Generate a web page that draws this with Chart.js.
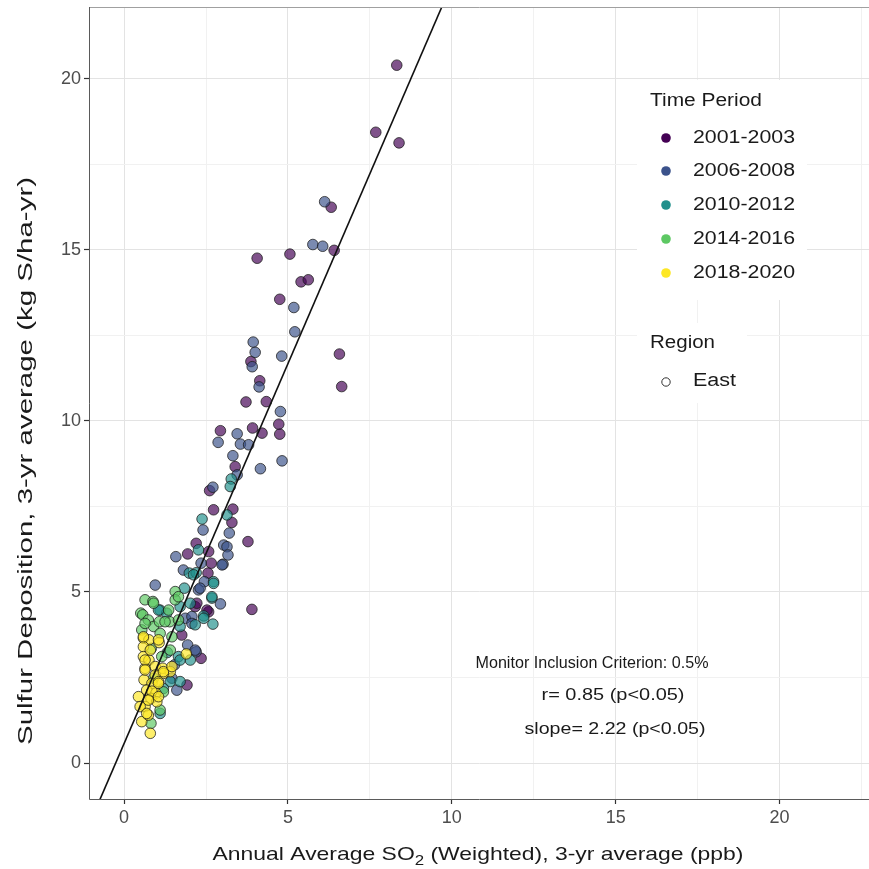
<!DOCTYPE html>
<html>
<head>
<meta charset="utf-8">
<script src="https://cdn.jsdelivr.net/npm/chart.js@4.4.1/dist/chart.umd.min.js"></script>
<style>
  html, body { margin: 0; padding: 0; background: #fff; overflow: hidden; }
  #wrap { width: 869px; height: 869px; position: relative; overflow: hidden; }
  #chart { display: block; }
</style>
</head>
<body>
<!-- canvas is a bit wider than the window so the panel runs off the right edge, as in the source -->
<div id="wrap"><canvas id="chart" width="876" height="869"></canvas></div>
<script>
// Data: [SO2 ppb, S deposition kg/ha-yr]
const periods = ['2001-2003', '2006-2008', '2010-2012', '2014-2016', '2018-2020'];
const periodColors = ['#440154', '#3B528B', '#21908C', '#5DC863', '#FDE725'];

const pts2001 = [
  [8.32,20.39],[7.68,18.43],[8.39,18.12],[6.32,16.24],[6.41,14.98],[4.06,14.75],[5.06,14.87],
  [5.40,14.06],[5.62,14.12],[4.75,13.55],[3.87,11.73],[6.57,11.95],[6.64,11.0],[4.14,11.17],
  [3.72,10.55],[4.34,10.56],[2.94,9.71],[3.92,9.79],[4.21,9.64],[4.72,9.90],[4.75,9.61],
  [3.39,8.66],[2.61,7.96],[2.73,7.40],[3.32,7.42],[3.29,7.03],[3.78,6.47],[2.20,6.42],
  [2.58,6.18],[1.94,6.11],[2.66,5.84],[2.56,5.55],[2.17,4.57],[3.90,4.49],[2.58,4.42],
  [1.76,3.74],[2.35,3.06],[1.92,2.28],[2.22,4.67],[2.53,4.47]
];
const pts2006 = [
  [6.12,16.40],[5.76,15.15],[6.06,15.10],[5.18,13.31],[5.21,12.60],[3.94,12.30],[4.0,12.0],
  [3.91,11.58],[4.81,11.89],[4.12,10.99],[4.77,10.27],[3.45,9.62],[2.87,9.37],[3.55,9.32],
  [3.80,9.30],[4.82,8.83],[4.16,8.60],[3.32,8.98],[3.45,8.42],[2.71,8.06],[2.41,6.81],
  [3.21,6.72],[3.04,6.37],[3.14,6.32],[3.17,6.08],[1.58,6.03],[2.35,5.84],[3.02,5.81],
  [1.81,5.64],[2.45,5.30],[0.95,5.20],[2.27,5.06],[2.94,4.65],[1.87,4.23],[2.07,4.28],
  [1.94,3.45],[2.20,3.25],[1.54,2.87],[1.61,2.13],[1.46,2.48],[2.99,5.79],[2.32,5.11],
  [2.07,4.08],[2.17,3.30]
];
const pts2010 = [
  [3.27,8.30],[3.24,8.08],[3.14,7.25],[2.38,7.13],[2.27,6.23],[1.99,5.55],[2.20,5.56],
  [2.73,5.30],[1.84,5.11],[2.68,4.82],[1.71,4.57],[2.02,4.67],[1.10,4.47],[2.43,4.30],
  [1.30,4.38],[2.17,4.04],[2.71,4.06],[1.32,3.23],[1.66,3.11],[2.02,3.01],[1.41,2.38],
  [1.20,2.18],[1.10,1.45],[2.12,5.50],[2.73,5.25],[2.68,4.86],[2.43,4.23],[1.71,3.99],
  [1.05,4.47],[1.71,3.01],[1.71,2.38]
];
const pts2014 = [
  [1.56,5.01],[1.56,4.77],[0.64,4.77],[0.88,4.72],[0.51,4.38],[0.57,4.33],[1.39,4.13],
  [1.66,4.18],[0.74,4.18],[0.90,3.99],[1.08,4.13],[0.54,3.89],[1.10,3.79],[1.46,3.69],
  [0.83,3.35],[1.41,3.30],[1.15,3.11],[0.82,1.16],[0.90,4.67],[0.64,4.08],[1.25,4.13],
  [1.66,4.86],[1.36,4.47],[1.10,1.55],[1.20,2.08],[0.90,2.48]
];
const pts2018 = [
  [0.59,3.65],[0.76,3.60],[1.07,3.52],[0.59,3.40],[1.90,3.19],[0.59,3.11],[0.76,3.01],
  [0.64,2.77],[0.95,2.82],[1.18,2.77],[1.41,2.67],[1.20,2.62],[0.95,2.57],[0.61,2.43],
  [0.85,2.33],[1.05,2.38],[0.69,2.13],[0.97,2.04],[0.82,1.89],[0.44,1.94],[1.00,1.79],
  [0.64,1.65],[0.54,1.21],[0.74,1.40],[0.80,0.87],[0.59,3.69],[0.80,3.30],[1.05,3.60],
  [0.64,3.01],[0.64,2.72],[1.20,2.67],[1.46,2.82],[1.05,2.33],[0.85,2.10],[1.05,1.94],
  [0.74,1.84],[0.49,1.65],[0.69,1.45]
];
const periodPoints = [pts2001, pts2006, pts2010, pts2014, pts2018];

// regression line and annotation
const fitSlope = 2.22;
const fitIntercept = 0.57;
const fitXRange = [-1.5, 10.5];
const noteLines = ['Monitor Inclusion Criterion: 0.5%', 'r= 0.85 (p<0.05)', 'slope= 2.22 (p<0.05)'];

// axes
const xRange = [-1.07, 22.75];
const yRange = [-1.05, 22.09];
const xMajor = [0, 5, 10, 15, 20];
const xMinor = [2.5, 7.5, 12.5, 17.5, 22.5];
const yMajor = [0, 5, 10, 15, 20];
const yMinor = [2.5, 7.5, 12.5, 17.5];

const FONT = '"Liberation Sans", Arial, Helvetica, sans-serif';
const TEXT = '#1a1a1a';

function hexA(hex, a){
  const n = parseInt(hex.slice(1), 16);
  return `rgba(${(n>>16)&255},${(n>>8)&255},${n&255},${a})`;
}

// draw text squeezed/stretched to a given width
function fitText(ctx, text, x, y, width, align){
  const w = ctx.measureText(text).width;
  const sx = width / w;
  ctx.save();
  ctx.translate(x, y);
  ctx.scale(sx, 1);
  ctx.textAlign = align || 'left';
  ctx.fillText(text, 0, 0);
  ctx.restore();
}

const decorPlugin = {
  id: 'decor',
  beforeDatasetsDraw(chart){
    // keep the legend boxes over the grid, like ggplot's legend background
    const ctx = chart.ctx;
    ctx.save();
    ctx.fillStyle = '#fff';
    ctx.fillRect(637, 80, 170, 220);
    ctx.fillRect(637, 323, 110, 80);
    ctx.restore();
  },
  afterDraw(chart){
    const ctx = chart.ctx;
    const a = chart.chartArea;
    ctx.save();
    // panel border (right side runs off the picture)
    ctx.lineWidth = 1;
    ctx.strokeStyle = '#a0a0a0';
    ctx.beginPath();
    ctx.moveTo(a.left, a.top + 0.5); ctx.lineTo(a.right, a.top + 0.5);
    ctx.stroke();
    ctx.strokeStyle = '#5a5a5a';
    ctx.beginPath();
    ctx.moveTo(a.left + 0.5, a.top); ctx.lineTo(a.left + 0.5, a.bottom + 0.5);
    ctx.lineTo(a.right, a.bottom + 0.5);
    ctx.stroke();

    ctx.fillStyle = TEXT;
    ctx.textBaseline = 'middle';

    // legend: time period
    ctx.font = `18px ${FONT}`;
    fitText(ctx, 'Time Period', 650, 101, 112);
    const rowY = [138, 171, 205, 239, 273];
    periods.forEach((p, i) => {
      ctx.beginPath();
      ctx.fillStyle = periodColors[i];
      ctx.arc(666, rowY[i], 4.8, 0, Math.PI * 2);
      ctx.fill();
      ctx.fillStyle = TEXT;
      fitText(ctx, p, 693, rowY[i], 102);
    });
    // legend: region
    fitText(ctx, 'Region', 650, 343, 65);
    ctx.beginPath();
    ctx.strokeStyle = '#333';
    ctx.lineWidth = 1;
    ctx.arc(666, 382, 4.2, 0, Math.PI * 2);
    ctx.stroke();
    fitText(ctx, 'East', 693, 381, 43);

    // stats note
    ctx.font = `17px ${FONT}`;
    fitText(ctx, noteLines[0], 592, 663, 233, 'center');
    fitText(ctx, noteLines[1], 613, 695, 143, 'center');
    fitText(ctx, noteLines[2], 615, 729, 181, 'center');

    // x title with subscript
    ctx.font = `19px ${FONT}`;
    const p1 = 'Annual Average SO', p3 = ' (Weighted), 3-yr average (ppb)';
    const w1 = ctx.measureText(p1).width, w3 = ctx.measureText(p3).width;
    ctx.font = `14px ${FONT}`;
    const w2 = ctx.measureText('2').width;
    const total = w1 + w2 + w3;
    const sx = 531 / total;
    ctx.save();
    ctx.translate(478 - 531 / 2, 855);
    ctx.scale(sx, 1);
    ctx.textAlign = 'left';
    ctx.font = `19px ${FONT}`;
    ctx.fillText(p1, 0, 0);
    ctx.font = `14px ${FONT}`;
    ctx.fillText('2', w1, 6);
    ctx.font = `19px ${FONT}`;
    ctx.fillText(p3, w1 + w2, 0);
    ctx.restore();

    // y title
    ctx.save();
    ctx.translate(26, 461);
    ctx.rotate(-Math.PI / 2);
    ctx.font = `20px ${FONT}`;
    fitText(ctx, 'Sulfur Deposition, 3-yr average (kg S/ha-yr)', 0, 0, 568, 'center');
    ctx.restore();
    ctx.restore();
  }
};

function gridColor(majors){
  return c => (c.tick && majors.includes(c.tick.value)) ? '#e3e3e3' : '#f1f1f1';
}
function tickMarkColor(majors){
  return c => (c.tick && majors.includes(c.tick.value)) ? '#333' : 'rgba(0,0,0,0)';
}
function noPad(s){
  s.paddingTop = 0; s.paddingBottom = 0; s.paddingLeft = 0; s.paddingRight = 0;
}

const scatterSets = periods.map((p, i) => ({
  type: 'scatter',
  label: p,
  data: periodPoints[i].map(d => ({ x: d[0], y: d[1] })),
  backgroundColor: hexA(periodColors[i], 0.68),
  borderColor: 'rgba(25,25,25,0.75)',
  borderWidth: 1,
  pointRadius: 5.3,
  pointHoverRadius: 5.3,
  order: 10 - i
}));

const fitSet = {
  type: 'line',
  label: 'fit',
  data: fitXRange.map(x => ({ x: x, y: fitIntercept + fitSlope * x })),
  borderColor: '#111',
  borderWidth: 1.6,
  pointRadius: 0,
  fill: false,
  order: 0
};

new Chart(document.getElementById('chart').getContext('2d'), {
  type: 'scatter',
  data: { datasets: [fitSet, ...scatterSets] },
  options: {
    responsive: false,
    animation: false,
    layout: { padding: { left: 0, top: 7, right: 0, bottom: 0 } },
    plugins: { legend: { display: false }, tooltip: { enabled: false } },
    scales: {
      x: {
        type: 'linear',
        min: xRange[0], max: xRange[1],
        afterBuildTicks: s => { s.ticks = [...xMajor, ...xMinor].sort((a, b) => a - b).map(v => ({ value: v })); },
        afterFit: s => { s.height = 70; noPad(s); },
        ticks: {
          autoSkip: false, maxRotation: 0, padding: 3,
          color: '#4d4d4d', font: { family: FONT, size: 18 },
          callback: v => xMajor.includes(v) ? String(v) : ''
        },
        grid: { color: gridColor(xMajor), lineWidth: 1, tickLength: 5, tickColor: tickMarkColor(xMajor), tickWidth: 1.2 },
        border: { display: false }
      },
      y: {
        type: 'linear',
        min: yRange[0], max: yRange[1],
        afterBuildTicks: s => { s.ticks = [...yMajor, ...yMinor].sort((a, b) => a - b).map(v => ({ value: v })); },
        afterFit: s => { s.width = 89; noPad(s); },
        ticks: {
          autoSkip: false, padding: 3,
          color: '#4d4d4d', font: { family: FONT, size: 18 },
          callback: v => yMajor.includes(v) ? String(v) : ''
        },
        grid: { color: gridColor(yMajor), lineWidth: 1, tickLength: 5, tickColor: tickMarkColor(yMajor), tickWidth: 1.2 },
        border: { display: false }
      }
    }
  },
  plugins: [decorPlugin]
});
</script>
</body>
</html>
